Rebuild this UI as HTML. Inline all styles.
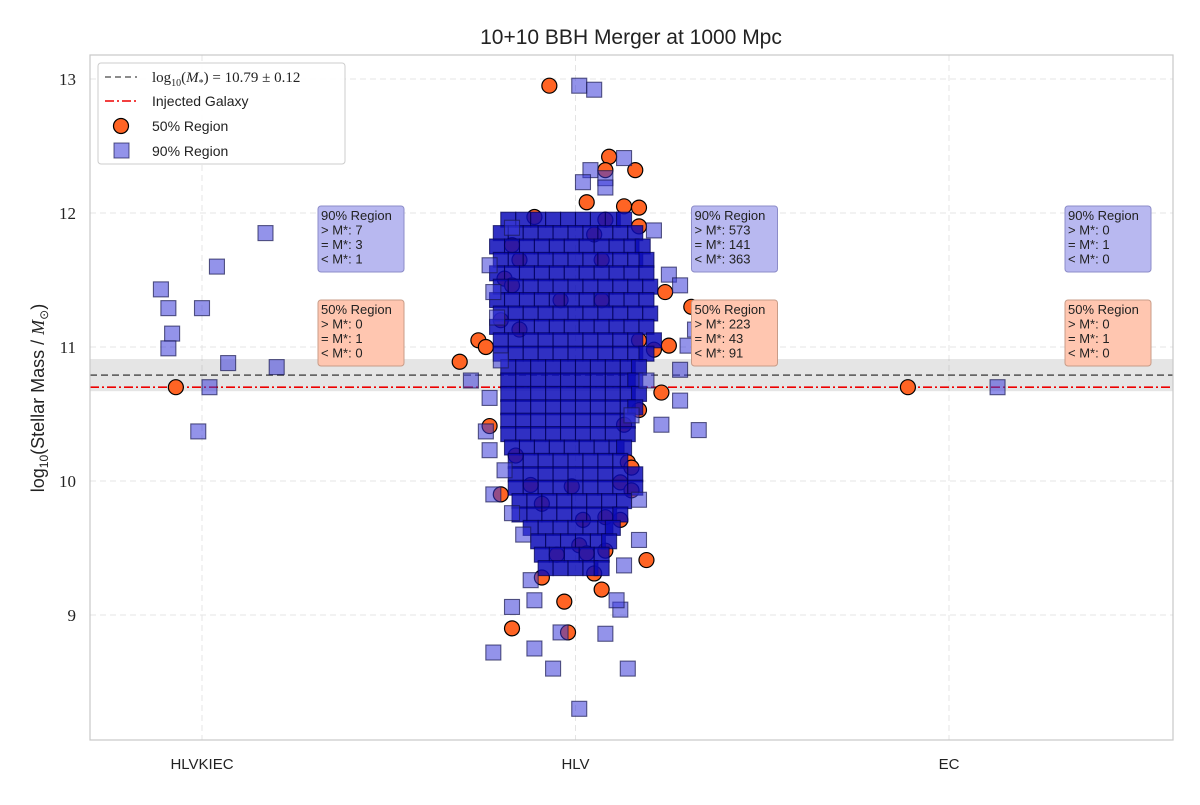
<!DOCTYPE html>
<html><head><meta charset="utf-8"><style>
body{margin:0;background:#fff;}
</style></head><body>
<svg id="chart" width="1200" height="800" xmlns="http://www.w3.org/2000/svg" font-family="Liberation Sans, sans-serif"></svg>
<script>
const categories=["HLVKIEC","HLV","EC"];
const yTicks=[9,10,11,12,13];
const meanMass=10.79, meanErr=0.12, injectedMass=10.70;
const boxCounts=[[7,3,1,0,1,0],[573,141,363,223,43,91],[0,1,0,0,1,0]];
// [category, offset, value]
const region50=[[0,-0.07,10.70],[2,-0.11,10.70],
[1,-0.07,12.95],[1,0.09,12.42],[1,0.08,12.32],[1,0.16,12.32],[1,0.03,12.08],[1,0.13,12.05],[1,0.17,12.04],[1,-0.11,11.97],[1,0.08,11.95],[1,0.17,11.90],[1,0.05,11.84],[1,-0.17,11.76],[1,-0.19,11.51],[1,-0.17,11.46],[1,0.24,11.41],[1,0.31,11.30],[1,-0.26,11.05],[1,-0.24,11.00],[1,-0.31,10.89],[1,0.21,10.98],[1,0.25,11.01],[1,0.23,10.66],[1,-0.23,10.41],[1,0.13,10.42],[1,0.14,10.14],[1,0.15,10.10],[1,-0.2,9.90],[1,0.12,9.99],[1,0.15,9.93],[1,0.19,9.41],[1,0.05,9.31],[1,-0.17,8.90],[1,-0.02,8.87],[1,-0.03,9.10],[1,0.07,9.19],[1,-0.09,9.28],[1,0.01,9.52],[1,0.03,9.46],[1,-0.05,9.45],[1,0.08,9.48],[1,0.02,9.71],[1,0.08,9.73],[1,0.12,9.71],[1,-0.09,9.83],[1,-0.01,9.96],[1,-0.12,9.97],[1,-0.16,10.19],[1,0.17,10.53],[1,-0.2,11.20],[1,-0.15,11.65],[1,0.07,11.65],[1,0.17,11.05],[1,-0.15,11.13],[1,-0.04,11.35],[1,0.07,11.35]];
const region90Outer=[[0,-0.11,11.43],[0,-0.09,11.29],[0,0,11.29],[0,-0.08,11.10],[0,-0.09,10.99],[0,0.04,11.60],[0,0.17,11.85],[0,0.07,10.88],[0,0.2,10.85],[0,0.02,10.70],[0,-0.01,10.37],[2,0.13,10.70],
[1,0.01,12.95],[1,0.05,12.92],[1,0.04,12.32],[1,0.08,12.26],[1,0.02,12.23],[1,0.13,12.41],[1,0.08,12.19],[1,0.21,11.87],[1,-0.17,11.89],[1,-0.23,11.61],[1,0.25,11.54],[1,0.28,11.46],[1,-0.22,11.41],[1,-0.21,11.22],[1,0.32,11.13],[1,0.30,11.01],[1,-0.28,10.75],[1,0.28,10.83],[1,-0.23,10.62],[1,0.28,10.60],[1,0.33,10.38],[1,-0.24,10.37],[1,-0.23,10.23],[1,-0.22,9.90],[1,-0.17,9.76],[1,-0.14,9.60],[1,-0.22,8.72],[1,-0.11,8.75],[1,-0.06,8.60],[1,0.14,8.60],[1,0.01,8.30],[1,0.08,8.86],[1,-0.04,8.87],[1,-0.17,9.06],[1,-0.11,9.11],[1,0.12,9.04],[1,0.11,9.11],[1,0.13,9.37],[1,-0.12,9.26],[1,0.17,9.56],[1,0.17,9.86],[1,0.23,10.42],[1,0.15,10.49],[1,-0.19,10.08],[1,0.19,10.75],[1,-0.2,10.90]];
// core of HLV 90% cloud: [value, offsets...]
const region90Core=[
[11.95,-0.18,-0.14,-0.10,-0.06,-0.02,0.02,0.06,0.10,0.13],
[11.85,-0.20,-0.16,-0.12,-0.08,-0.04,0.00,0.04,0.08,0.12,0.16],
[11.75,-0.21,-0.17,-0.13,-0.09,-0.05,-0.01,0.03,0.07,0.11,0.15,0.18],
[11.65,-0.20,-0.16,-0.12,-0.08,-0.04,0.00,0.04,0.08,0.12,0.16,0.19],
[11.55,-0.21,-0.17,-0.13,-0.09,-0.05,-0.01,0.03,0.07,0.11,0.15,0.19],
[11.45,-0.20,-0.16,-0.12,-0.08,-0.04,0.00,0.04,0.08,0.12,0.16,0.20],
[11.35,-0.21,-0.17,-0.13,-0.09,-0.05,-0.01,0.03,0.07,0.11,0.15,0.19],
[11.25,-0.20,-0.16,-0.12,-0.08,-0.04,0.00,0.04,0.08,0.12,0.16,0.20],
[11.15,-0.21,-0.17,-0.13,-0.09,-0.05,-0.01,0.03,0.07,0.11,0.15,0.19],
[11.05,-0.20,-0.16,-0.12,-0.08,-0.04,0.00,0.04,0.08,0.12,0.16,0.21],
[10.95,-0.20,-0.16,-0.12,-0.08,-0.04,0.00,0.04,0.08,0.12,0.16,0.19],
[10.85,-0.18,-0.14,-0.10,-0.06,-0.02,0.02,0.06,0.10,0.14,0.17],
[10.75,-0.18,-0.14,-0.10,-0.06,-0.02,0.02,0.06,0.10,0.14,0.16],
[10.65,-0.18,-0.14,-0.10,-0.06,-0.02,0.02,0.06,0.10,0.14,0.17],
[10.55,-0.18,-0.14,-0.10,-0.06,-0.02,0.02,0.06,0.10,0.14,0.16],
[10.45,-0.18,-0.14,-0.10,-0.06,-0.02,0.02,0.06,0.10,0.14],
[10.35,-0.18,-0.14,-0.10,-0.06,-0.02,0.02,0.06,0.10,0.14],
[10.25,-0.17,-0.13,-0.09,-0.05,-0.01,0.03,0.07,0.11,0.13],
[10.15,-0.16,-0.12,-0.08,-0.04,0.00,0.04,0.08,0.12],
[10.05,-0.16,-0.12,-0.08,-0.04,0.00,0.04,0.08,0.12,0.16],
[9.95,-0.16,-0.12,-0.08,-0.04,0.00,0.04,0.08,0.12,0.16],
[9.85,-0.15,-0.11,-0.07,-0.03,0.01,0.05,0.09,0.13],
[9.75,-0.15,-0.11,-0.07,-0.03,0.01,0.05,0.09,0.12],
[9.65,-0.12,-0.08,-0.04,0.00,0.04,0.08,0.10],
[9.55,-0.10,-0.06,-0.02,0.02,0.06,0.09],
[9.45,-0.09,-0.05,-0.01,0.03,0.07],
[9.35,-0.08,-0.04,0.00,0.04,0.07]];

const NS="http://www.w3.org/2000/svg";
const svg=document.getElementById('chart');
const L=90,R=1173,T=55,B=740;
function xs(c,o){return 202+(c+o)*373.5;}
function ys(v){return 79+(13-v)*134;}
function el(tag,attrs,parent){const e=document.createElementNS(NS,tag);for(const k in attrs)e.setAttribute(k,attrs[k]);(parent||svg).appendChild(e);return e;}

let t=el('text',{x:631,y:44,'text-anchor':'middle','font-size':21,fill:'#222'});t.textContent='10+10 BBH Merger at 1000 Mpc';

categories.forEach((c,i)=>{const g=el('line',{x1:xs(i,0),x2:xs(i,0),y1:T,y2:B,stroke:'#e4e4e4','stroke-dasharray':'6,4'});

const lb=el('text',{x:xs(i,0),y:769,'text-anchor':'middle','font-size':15,fill:'#222'});lb.textContent=c;
});
yTicks.forEach(v=>{const g=el('line',{x1:L,x2:R,y1:ys(v),y2:ys(v),stroke:'#e4e4e4','stroke-dasharray':'6,4'});

const lb=el('text',{x:76,y:ys(v)+6,'text-anchor':'end','font-size':17,fill:'#222','font-family':'Liberation Serif, serif'});lb.textContent=v;
});
let band=el('rect',{x:L,y:ys(meanMass+meanErr),width:R-L,height:ys(meanMass-meanErr)-ys(meanMass+meanErr),fill:'#888','fill-opacity':0.22});

let ml=el('line',{x1:L,x2:R,y1:ys(meanMass),y2:ys(meanMass),stroke:'#666','stroke-width':1.8,'stroke-dasharray':'7,4'});

let il=el('line',{x1:L,x2:R,y1:ys(injectedMass),y2:ys(injectedMass),stroke:'#e00','stroke-width':1.6,'stroke-dasharray':'9,3,2,3'});

region50.forEach(p=>{const c=el('circle',{cx:xs(p[0],p[1]),cy:ys(p[2]),r:7.5,fill:'#ff6424',stroke:'#000','stroke-width':1.2});
});
function sq(c,o,v,core){const s=el('rect',{x:xs(c,o)-7.5,y:ys(v)-7.5,width:15,height:15,fill:core?'#0c0cb8':'#3a3ad8','fill-opacity':core?0.85:0.55,stroke:core?'#000050':'#1a1a50','stroke-opacity':0.7,'stroke-width':1.1});
}
region90Core.forEach(r=>{for(let i=1;i<r.length;i++)sq(1,r[i],r[0],true);});
region90Outer.forEach(p=>sq(p[0],p[1],p[2],false));
let fr=el('rect',{x:L,y:T,width:R-L,height:B-T,fill:'none',stroke:'#c8c8c8','stroke-width':1.2});

boxCounts.forEach((bc,i)=>{const x0=xs(i,0)+116;
[[0,'90% Region','#b8b8f0','#8c8cc8',206],[3,'50% Region','#ffc6b0','#c89c88',300]].forEach(b=>{
const g=el('g',{});
el('rect',{x:x0,y:b[4],width:86,height:66,rx:3,fill:b[2],stroke:b[3],'stroke-width':1},g);
const lines=[b[1],'> M*: '+bc[b[0]],'= M*: '+bc[b[0]+1],'< M*: '+bc[b[0]+2]];
lines.forEach((s,k)=>{const tx=el('text',{x:x0+3,y:b[4]+14+k*14.5,'font-size':13,fill:'#222'},g);tx.textContent=s;});});});
const lg=el('g',{});
el('rect',{x:98,y:63,width:247,height:101,rx:3,fill:'#fff','fill-opacity':0.9,stroke:'#ccc'},lg);
el('line',{x1:105,x2:137,y1:77,y2:77,stroke:'#666','stroke-width':1.6,'stroke-dasharray':'6,4'},lg);
el('line',{x1:105,x2:137,y1:101,y2:101,stroke:'#e00','stroke-width':1.6,'stroke-dasharray':'9,3,2,3'},lg);
el('circle',{cx:121,cy:126,r:7.5,fill:'#ff6424',stroke:'#000','stroke-width':1.2},lg);
el('rect',{x:114,y:143,width:15,height:15,fill:'#3a3ad8','fill-opacity':0.55,stroke:'#1a1a50','stroke-opacity':0.7},lg);
let l1=el('text',{x:152,y:82,'font-size':15,fill:'#222','font-family':'Liberation Serif, serif'},lg);l1.innerHTML='log<tspan font-size="10" dy="4">10</tspan><tspan dy="-4">(<tspan font-style="italic">M</tspan><tspan font-size="10" dy="4">*</tspan><tspan dy="-4">) = 10.79 ± 0.12</tspan></tspan>';
[['Injected Galaxy',106],['50% Region',131],['90% Region',156]].forEach(a=>{const tx=el('text',{x:152,y:a[1],'font-size':14,fill:'#222'},lg);tx.textContent=a[0];});
const yt=el('text',{x:0,y:0,'font-size':18,fill:'#222','text-anchor':'middle',transform:'translate(44,398) rotate(-90)'});
yt.innerHTML='log<tspan font-size="12" dy="4">10</tspan><tspan dy="-4">(Stellar Mass / </tspan><tspan font-style="italic" font-family="Liberation Serif, serif">M</tspan><tspan font-size="12" dy="4">⊙</tspan><tspan dy="-4">)</tspan>';

</script>
</body></html>
